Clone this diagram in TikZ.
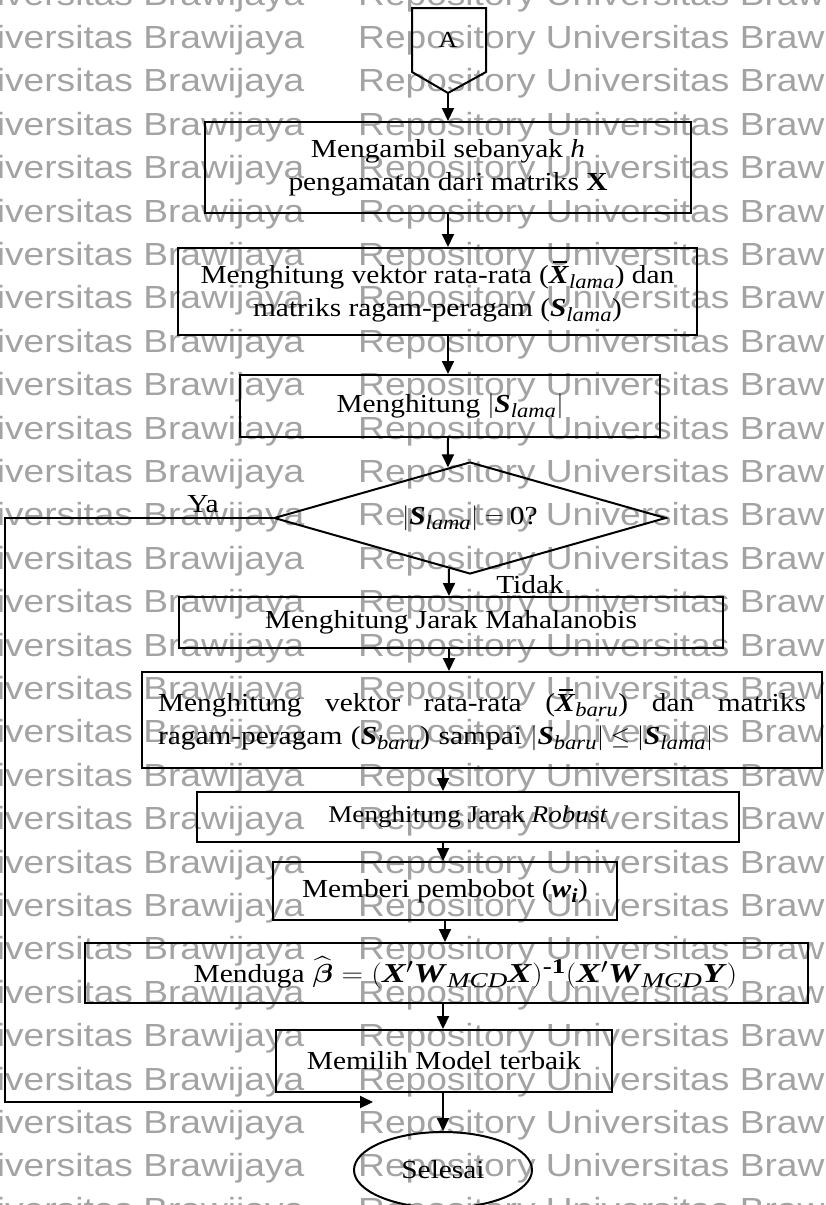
\documentclass[tikz,border=0pt]{standalone}
\usepackage{fontspec}
\usepackage{amsmath}
\usepackage{graphicx}
\setmainfont{Liberation Serif}[FakeStretch=1.13]
\newfontfamily\wmfont{Liberation Sans}[FakeStretch=1.16]
\usetikzlibrary{arrows.meta,shapes.geometric,calc}
\DeclareMathSizes{26}{26}{20}{15}
\DeclareMathSizes{24}{24}{18.5}{14}
\definecolor{wm}{gray}{0.64}
\newcommand{\bi}[1]{\textbf{\textit{#1}}}
\newcommand{\sub}[1]{\text{\itshape #1}}
\newcommand{\xb}{\makebox[0pt][l]{\hspace{0.16em}\rule[0.78em]{0.52em}{0.065em}}\bi{X}}
\newcommand{\fs}{\fontsize{26}{33}\selectfont}
\begin{document}
\begin{tikzpicture}[x=1pt,y=-1pt,
  ln/.style={line width=2pt, draw=black},
  box/.style={ln, rectangle, inner sep=0pt, align=center, font=\fs},
  arr/.style={line width=2pt, -{Triangle[length=13pt,width=12pt]}},
  wmtext/.style={font=\wmfont\fontsize{32}{32}\selectfont, text=wm, inner sep=0pt},
  lbl/.style={font=\fs, inner sep=0pt}]
\useasboundingbox (0,0) rectangle (826,1205);
\clip (0,0) rectangle (826,1205);
% watermark
\foreach \k in {0,...,28} {
  \node[wmtext, anchor=base west] (wl\k) at (-50.7, {5+43.4*\k}) {Universitas Brawijaya};
  \node[wmtext, anchor=base west] (wr\k) at (358, {5+43.4*\k}) {Repository Universitas Brawijaya};
}
% off-page connector
\draw[ln] (412,8) -- (486,8) -- (486,72) -- (448,93) -- (412,72) -- cycle;
\coordinate (Abot) at (448,93);
\node[font=\fontsize{23}{23}\selectfont, inner sep=0pt] (A) at (448,40) {A};
% boxes
\node[box, minimum width=486pt, minimum height=91pt] (b1) at (448,167.5)
  {Mengambil sebanyak \textit{h}\\pengamatan dari matriks \textbf{X}};
\node[box, minimum width=519pt, minimum height=87pt] (b2) at (437.5,291.5)
  {Menghitung vektor rata-rata (\(\xb_{\sub{lama}}\)) dan\\matriks ragam-peragam (\(\bi{S}_{\sub{lama}}\))};
\node[box, minimum width=420pt, minimum height=62pt] (b3) at (450,406)
  {Menghitung \(|\bi{S}_{\sub{lama}}|\)};
\node[ln, diamond, aspect=3.5, inner sep=0pt, minimum width=392pt, minimum height=112pt, font=\fs] (d) at (470,518)
  {\(|\bi{S}_{\sub{lama}}| = \text{0}\)?};
\node[box, minimum width=544pt, minimum height=51pt] (b4) at (451,622.5)
  {Menghitung Jarak Mahalanobis};
\node[box, minimum width=680pt, minimum height=96pt, text width=648pt, align=left] (b5) at (482,720)
  {\hbox to 648pt{Menghitung\hfill vektor\hfill rata-rata\hfill (\(\xb_{\sub{baru}}\))\hfill dan\hfill matriks}\\
   ragam-peragam (\(\bi{S}_{\sub{baru}}\)) sampai \(|\bi{S}_{\sub{baru}}| \leq |\bi{S}_{\sub{lama}}|\)};
\node[box, minimum width=542pt, minimum height=50pt, font=\fontsize{24}{28}\selectfont] (b6) at (468,817)
  {Menghitung Jarak \textit{Robust}};
\node[box, minimum width=344pt, minimum height=58pt] (b7) at (445,891)
  {Memberi pembobot (\(\bi{w}_{\bi{i}}\))};
\node[box, minimum width=723pt, minimum height=60pt] (b8) at (446.5,973)
  {\hspace*{38pt}Menduga\hspace{8pt}\scalebox{1.2}[1.05]{\(\widehat{\boldsymbol{\beta}} = (\bi{X}'\bi{W}_{\sub{MCD}}\bi{X})^{\textbf{-1}}(\bi{X}'\bi{W}_{\sub{MCD}}\bi{Y})\)}};
\node[box, minimum width=336pt, minimum height=62pt] (b9) at (444,1061)
  {Memilih Model terbaik};
\node[ln, ellipse, inner sep=0pt, minimum width=178pt, minimum height=76pt, font=\fs] (e) at (443,1170)
  {Selesai};
% labels
\node[lbl, anchor=base] (ya) at (203,512) {Ya};
\node[lbl, anchor=base] (tidak) at (530,593) {Tidak};
% connectors
\coordinate (c449) at (449,0);
\coordinate (c443) at (443,0);
\coordinate (c445) at (445,0);
\coordinate (L) at (5,0);
\coordinate (R) at (373,1102);
\draw[arr] (Abot) -- (Abot |- b1.north);
\draw[arr] (b1.south -| Abot) -- (b2.north -| Abot);
\draw[arr] (b2.south -| Abot) -- (b3.north -| Abot);
\draw[arr] (b3.south -| Abot) -- ($(d.north)!0.112!(d.west)$);
\draw[arr] ($(d.south)!0.107!(d.west)$) -- (b4.north -| c449);
\draw[arr] (b4.south -| c449) -- (b5.north -| c449);
\draw[arr] (b5.south -| c443) -- (b6.north -| c443);
\draw[arr] (b6.south -| c443) -- (b7.north -| c443);
\draw[arr] (b7.south -| c445) -- (b8.north -| c445);
\draw[arr] (b8.south -| c443) -- (b9.north -| c443);
\draw[arr] (b9.south -| c443) -- (e.north -| c443);
\draw[arr] (d.west) -- (d.west -| L) -- (L |- R) -- (R);
\end{tikzpicture}
\end{document}
